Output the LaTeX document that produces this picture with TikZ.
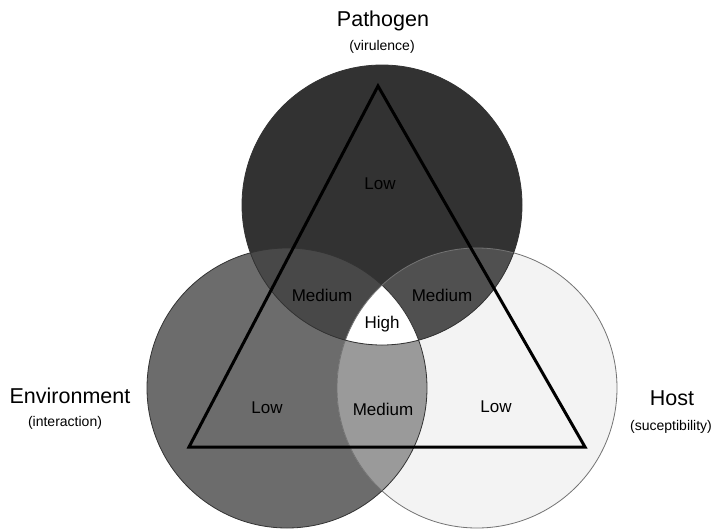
\documentclass[tikz,border=0pt]{standalone}
\usepackage{fontspec}
\setmainfont{Liberation Sans}
\definecolor{pathgray}{HTML}{323232}
\definecolor{envgray}{HTML}{6C6C6C}
\definecolor{hostgray}{HTML}{F3F3F3}
\definecolor{pegray}{HTML}{484848}
\definecolor{phgray}{HTML}{505050}
\definecolor{ehgray}{HTML}{9A9A9A}
\tikzset{
  factor/.style={anchor=base,font=\fontsize{21.5}{24}\selectfont},
  facet/.style={anchor=base,font=\fontsize{14}{16}\selectfont},
  risk/.style={anchor=base,text=black,font=\fontsize{17}{20}\selectfont},
  rim/.style={draw=black!80,line width=0.8pt}
}
\begin{document}
\begin{tikzpicture}[x=1pt,y=-1pt]
      \useasboundingbox (0,0) rectangle (715,530);
      \coordinate (pathogen) at (382,205);
      \coordinate (environment) at (287,388);
      \coordinate (host) at (477,388);
      \coordinate (apex) at (378,86);
      \coordinate (left) at (189,447);
      \coordinate (right) at (585,447);
      % circles and overlaps
      \fill[envgray] (environment) circle[radius=140pt];
      \fill[hostgray] (host) circle[radius=140pt];
      \begin{scope}
        \clip (environment) circle[radius=140pt];
        \fill[ehgray] (host) circle[radius=140pt];
      \end{scope}
      \fill[pathgray] (pathogen) circle[radius=140pt];
      \begin{scope}
        \clip (pathogen) circle[radius=140pt];
        \fill[pegray] (environment) circle[radius=140pt];
        \fill[phgray] (host) circle[radius=140pt];
        \clip (environment) circle[radius=140pt];
        \fill[white] (host) circle[radius=140pt];
      \end{scope}
      \draw[rim] (environment) circle[radius=140pt];
      \draw[rim,draw=black!55] (host) circle[radius=140pt];
      \draw[rim] (pathogen) circle[radius=140pt];
      % triangle
      \draw[line width=3pt,line join=miter] (apex) -- (left) -- (right) -- cycle;
      % factor labels
      \node[factor] (pathname) at (383,27) {Pathogen};
      \node[facet] (pathsub) at (382,50) {(virulence)};
      \node[factor] (envname) at (70,403) {Environment};
      \node[facet] (envsub) at (65,426) {(interaction)};
      \node[factor] (hostname) at (672,405) {Host};
      \node[facet,anchor=base west,inner sep=0pt] (hostsub) at (630,430) {(suceptibility)};
      % risk labels
      \node[risk] (lowtop) at (380,189) {Low};
      \node[risk] (medleft) at (322,301) {Medium};
      \node[risk] (medright) at (442,301) {Medium};
      \node[risk] (high) at (382,328) {High};
      \node[risk] (lowleft) at (267,413) {Low};
      \node[risk] (medlow) at (383,415) {Medium};
      \node[risk] (lowright) at (496,412) {Low};
\end{tikzpicture}
\end{document}
